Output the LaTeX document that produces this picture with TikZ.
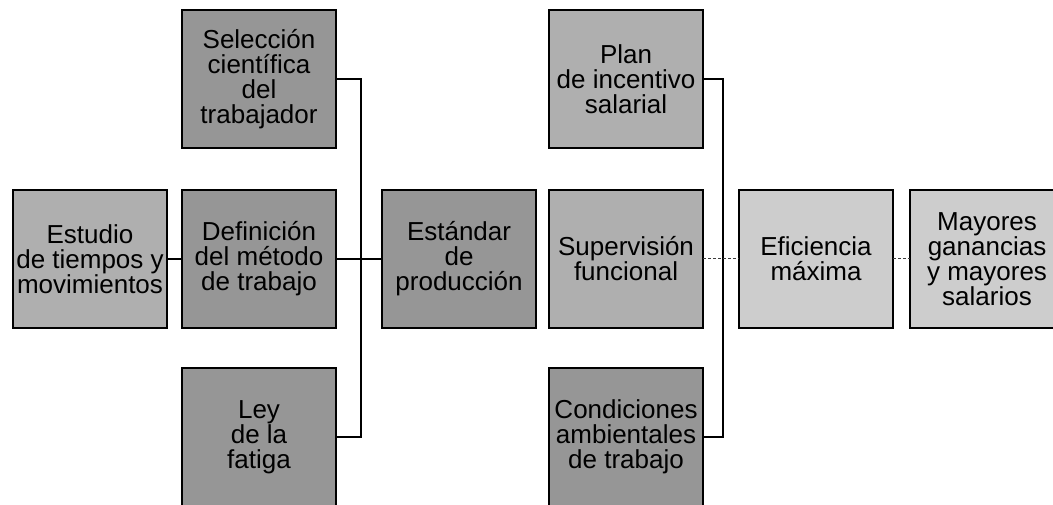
\documentclass[tikz,border=0pt]{standalone}
\usepackage{fontspec}
\setmainfont{Liberation Sans}
\usepackage{xcolor}
\usepackage{tikz}
\usetikzlibrary{positioning,calc}
\definecolor{boxgray}{RGB}{150,150,150}
\definecolor{midgray}{RGB}{175,175,175}
\definecolor{palegray}{RGB}{205,205,205}
\definecolor{linegray}{RGB}{60,60,60}
\tikzset{
  graybox/.style={draw=black, line width=1.5pt, outer sep=0pt, fill=boxgray,
    minimum width=154pt, minimum height=138pt, align=center,
    font=\fontsize{26}{25}\selectfont},
  midbox/.style={graybox, fill=midgray},
  palebox/.style={graybox, fill=palegray},
  link/.style={line width=1.5pt},
  faintlink/.style={line width=1pt, linegray, densely dashed}
}
\begin{document}
\begin{tikzpicture}[x=1pt, y=1pt, node distance=15pt and 15pt]
\useasboundingbox (0,0) rectangle (1053,-505);
\node[midbox] (estudio) at (90,-259) {Estudio\\de tiempos y\\movimientos};
\node[graybox, right=15pt of estudio] (def) {Definición\\del método\\de trabajo};
\node[graybox, right=46pt of def] (est) {Estándar\\de\\producción};
\node[midbox, right=13pt of est] (sup) {Supervisión\\funcional};
\node[palebox, right=36pt of sup] (efi) {Eficiencia\\máxima};
\node[palebox, right=17pt of efi] (may) {Mayores\\ganancias\\y mayores\\salarios};

\node[graybox, above=42pt of def] (sel) {Selección\\científica\\del\\trabajador};
\node[graybox, below=40pt of def] (ley) {Ley\\de la\\fatiga};
\node[midbox, above=42pt of sup] (plan) {Plan\\de incentivo\\salarial};
\node[graybox, below=40pt of sup] (cond) {Condiciones\\ambientales\\de trabajo};

\coordinate (jl) at ($(def.east)!0.54!(est.west)$);
\coordinate (jr) at ($(sup.east)!0.55!(efi.west)$);

\draw[link] (estudio) -- (def);
\draw[link] (def) -- (est);
\draw[link] (sel.east) -| (jl) |- (ley.east);
\draw[link] (plan.east) -| (jr) |- (cond.east);
\draw[faintlink] (sup) -- (efi);
\draw[faintlink] (efi) -- (may);
\end{tikzpicture}
\end{document}
